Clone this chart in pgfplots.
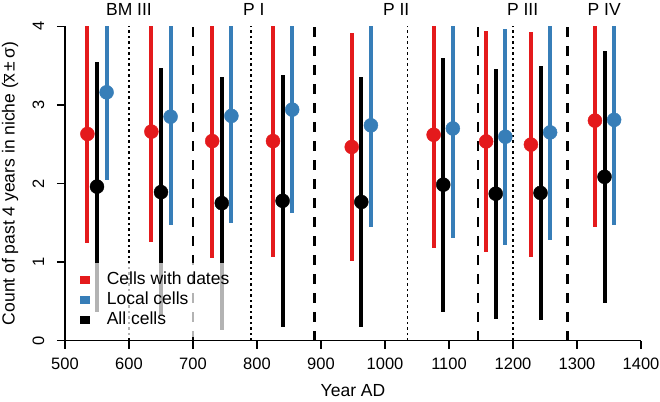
\documentclass[border=0pt]{standalone}
\usepackage{fontspec}
\setmainfont{Liberation Sans}
\usepackage{pgfplots}
\pgfplotsset{compat=1.18}
\definecolor{cred}{HTML}{E41A1C}
\definecolor{cblue}{HTML}{377EB8}
\pgfplotstableread{
x y e
535 2.63 1.39
635 2.66 1.41
730 2.54 1.49
825 2.54 1.47
948 2.465 1.455
1076 2.62 1.44
1158 2.535 1.405
1228 2.495 1.435
1328 2.80 1.35
}\reddata
\pgfplotstableread{
x y e
550 1.96 1.59
650 1.89 1.58
745 1.75 1.61
840 1.78 1.60
963 1.765 1.585
1091 1.985 1.615
1173 1.87 1.59
1243 1.88 1.62
1343 2.085 1.605
}\blackdata
\pgfplotstableread{
x y e
565 3.16 1.12
665 2.85 1.38
760 2.86 1.36
855 2.94 1.31
978 2.74 1.29
1106 2.70 1.39
1188 2.595 1.375
1258 2.65 1.37
1358 2.81 1.34
}\bluedata
\newcommand{\fs}{\fontsize{17.5}{20}\selectfont}
\newcommand{\fst}{\fontsize{16.5}{19}\selectfont}
\begin{document}
\fs
\begin{tikzpicture}
\path[use as bounding box] (-65pt,-60.3pt) rectangle (595pt,340.7pt);
\begin{axis}[
  width=576pt, height=314.4pt, scale only axis,
  xmin=500, xmax=1400, ymin=0, ymax=4,
  axis lines=left, axis line style={-, line width=1.4pt},
  tick align=outside, major tick length=8pt,
  tick style={line width=1.4pt, black},
  xtick={500,600,...,1400}, ytick={0,1,2,3,4},
  /pgf/number format/assume math mode=true,
  /pgf/number format/set thousands separator={},
  tick label style={font=\fst},
  xticklabel style={yshift=-2.8pt},
  yticklabel style={xshift=-6.8pt, rotate=90, anchor=south},
  xlabel={Year AD},
  ylabel={Count of past 4 years in niche (\ensuremath{\overline{\mbox{x}}}\,±\,σ)},
  label style={font=\fs},
  xlabel style={at={(axis description cs:0.5,-0.159)}, anchor=center},
  ylabel style={at={(axis description cs:-0.0955,0.5)}, anchor=center},
  clip mode=individual,
  legend image code/.code={\fill[fill opacity=1] (0pt,-3.9pt) rectangle (10pt,3.9pt);},
  legend style={at={(axis cs:508,0.99)}, anchor=north west, fill=white, fill opacity=0.7,
    text opacity=1, draw=none, font=\fs,
    row sep=2pt, column sep=16.5pt, inner xsep=10pt, inner ysep=8pt,
    nodes={inner sep=0pt, text height=13pt, text depth=5pt}},
  legend cell align=left,
]
% period boundaries
\addplot[black, line width=1.8pt, dash pattern=on 2.5pt off 3pt, forget plot] coordinates {(600,0) (600,4)};
\addplot[black, line width=2.6pt, dash pattern=on 10pt off 9pt, forget plot] coordinates {(700,0) (700,4)};
\addplot[black, line width=1.8pt, dash pattern=on 2.5pt off 3pt, forget plot] coordinates {(790,0) (790,4)};
\addplot[black, line width=2.6pt, dash pattern=on 10pt off 9pt, forget plot] coordinates {(890,0) (890,4)};
\addplot[black, line width=1.8pt, dash pattern=on 2.5pt off 3pt, forget plot] coordinates {(1035,0) (1035,4)};
\addplot[black, line width=2.6pt, dash pattern=on 10pt off 9pt, forget plot] coordinates {(1145,0) (1145,4)};
\addplot[black, line width=1.8pt, dash pattern=on 2.5pt off 3pt, forget plot] coordinates {(1200,0) (1200,4)};
\addplot[black, line width=2.6pt, dash pattern=on 10pt off 9pt, forget plot] coordinates {(1285,0) (1285,4)};
% data
\addplot[only marks, mark=*, mark size=7pt, color=cred, forget plot,
  error bars/.cd, y dir=both, y explicit, error mark=none,
  error bar style={line width=4pt, cred}] table[x=x, y=y, y error=e] {\reddata};
\addplot[only marks, mark=*, mark size=7pt, color=cblue, forget plot,
  error bars/.cd, y dir=both, y explicit, error mark=none,
  error bar style={line width=4pt, cblue}] table[x=x, y=y, y error=e] {\bluedata};
\addplot[only marks, mark=*, mark size=7pt, color=black, forget plot,
  error bars/.cd, y dir=both, y explicit, error mark=none,
  error bar style={line width=4pt, black}] table[x=x, y=y, y error=e] {\blackdata};
\addlegendimage{fill=cred, draw=none}
\addlegendentry{Cells with dates}
\addlegendimage{fill=cblue, draw=none}
\addlegendentry{Local cells}
\addlegendimage{fill=black, draw=none}
\addlegendentry{All cells}
% period labels
\node[anchor=base, yshift=10.5pt] at (axis cs:600,4) {BM III};
\node[anchor=base, yshift=10.5pt] at (axis cs:795,4) {P I};
\node[anchor=base, yshift=10.5pt] at (axis cs:1017.5,4) {P II};
\node[anchor=base, yshift=10.5pt] at (axis cs:1215,4) {P III};
\node[anchor=base, yshift=10.5pt] at (axis cs:1342.5,4) {P IV};
\end{axis}
\end{tikzpicture}
\end{document}
